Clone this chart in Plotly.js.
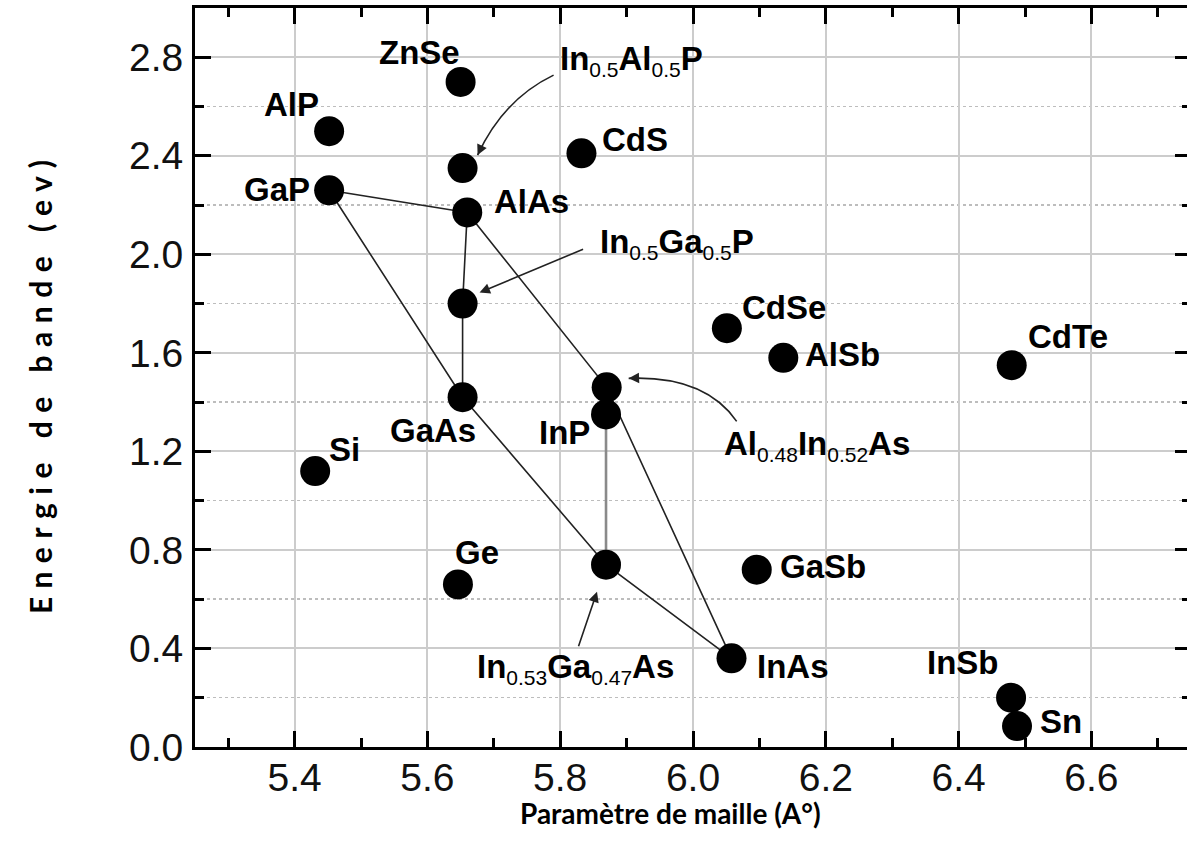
<!DOCTYPE html>
<html><head><meta charset="utf-8">
<script src="https://cdn.plot.ly/plotly-3.0.1.min.js"></script>
<style>html,body{margin:0;padding:0;overflow:hidden;background:#fff}#chart{width:1200px;height:847px}</style>
</head><body><div id="chart"></div>
<script>
// ---------------- data ----------------
const names    = ['ZnSe','AlP','GaP','In0.5Al0.5P','AlAs','In0.5Ga0.5P','GaAs','Si','Ge','CdS',
                  'Al0.48In0.52As','InP','In0.53Ga0.47As','InAs','GaSb','CdSe','AlSb','CdTe','InSb','Sn'];
const latticeA = [5.650,5.452,5.452,5.653,5.660,5.653,5.653,5.431,5.646,5.832,
                  5.870,5.869,5.869,6.058,6.096,6.051,6.136,6.480,6.479,6.488];
const gapEV    = [2.70,2.50,2.26,2.35,2.17,1.80,1.42,1.12,0.66,2.41,
                  1.46,1.35,0.74,0.36,0.72,1.70,1.58,1.55,0.20,0.085];
const tieLines = [['GaP','AlAs'],['GaP','GaAs','In0.53Ga0.47As','InAs'],
                  ['AlAs','In0.5Ga0.5P','GaAs'],['AlAs','Al0.48In0.52As','InAs']];
const grayLine = ['InP','In0.53Ga0.47As'];
const xTickVals = [5.4,5.6,5.8,6.0,6.2,6.4,6.6];
const yTickVals = [0.0,0.4,0.8,1.2,1.6,2.0,2.4,2.8];
const xTitle = 'Paramètre de maille (A°)';
const yTitle = 'Energie de bande (ev)';

// ---------------- geometry / styles ----------------
const W = 1200, H = 847;
const M = {l:195, r:9, t:8, b:100};
const XR = [5.25, 6.75], YR = [0, 3.0];
const pxX = (W - M.l - M.r) / (XR[1]-XR[0]);
const pxY = (H - M.t - M.b) / (YR[1]-YR[0]);
const idx = n => names.indexOf(n);
const P = n => [latticeA[idx(n)], gapEV[idx(n)]];
const off = (n, dx, dy) => [P(n)[0] + dx/pxX, P(n)[1] + dy/pxY]; // dy up

const LBL = {family:'Liberation Sans, Arial, sans-serif', size:33, color:'#000', weight:'bold'};
const sub = s => '<sub><span style="font-size:21px;font-weight:normal">'+s+'</span></sub>';

// binary labels: offset of text center from point (px, dx right, dy down)
const binLabels = [
  ['ZnSe',-41,-29],['AlP',-38,-27],['GaP',-52,-1],['GaAs',-30,33],['Si',29,-22],['Ge',19,-32],
  ['AlAs',64,-11],['CdS',54,-14],['InP',-42,18],['InAs',61,8],['GaSb',66,-3],['CdSe',57,-21],
  ['AlSb',59,-3],['CdTe',56,-29],['InSb',-48,-35],['Sn',44,-5]
];
// alloy labels: [point, text, left dx, center dy(down)]
const alloyLabels = [
  ['In0.5Al0.5P', 'In'+sub('0.5')+'Al'+sub('0.5')+'P', 95, -108],
  ['In0.5Ga0.5P', 'In'+sub('0.5')+'Ga'+sub('0.5')+'P', 135, -60],
  ['Al0.48In0.52As', 'Al'+sub('0.48')+'In'+sub('0.52')+'As', 115, 58],
  ['In0.53Ga0.47As', 'In'+sub('0.53')+'Ga'+sub('0.47')+'As', -131, 104]
];
// arrows: point, tail, ctrl (or null), tip  (px offsets, y up)
const arrows = [
  ['In0.5Al0.5P', [91,93], [41,69], [15,13]],
  ['In0.5Ga0.5P', [122,55], null, [17,11]],
  ['Al0.48In0.52As', [130,-34], [98,12], [22,9]],
  ['In0.53Ga0.47As', [-28,-83], null, [-9,-27]]
];

const traces = [];
tieLines.forEach(seq => traces.push({
  x: seq.map(n => P(n)[0]), y: seq.map(n => P(n)[1]), mode:'lines',
  line:{color:'#222', width:1.6}, hoverinfo:'skip'
}));
traces.push({x: grayLine.map(n=>P(n)[0]), y: grayLine.map(n=>P(n)[1]), mode:'lines',
  line:{color:'#8a8a8a', width:2.6}, hoverinfo:'skip'});
traces.push({x: latticeA, y: gapEV, text: names, mode:'markers', type:'scatter',
  marker:{size:30, color:'#000'}, hoverinfo:'text'});

const annotations = [];
binLabels.forEach(([n,dx,dy]) => annotations.push({
  x:P(n)[0], y:P(n)[1], xref:'x', yref:'y', text:n, showarrow:false,
  xshift:dx, yshift:-dy, xanchor:'center', yanchor:'middle', font:LBL
}));
alloyLabels.forEach(([n,t,dx,dy]) => annotations.push({
  x:P(n)[0], y:P(n)[1], xref:'x', yref:'y', text:t, showarrow:false,
  xshift:dx, yshift:-dy, xanchor:'left', yanchor:'middle', font:LBL
}));
const shapes = [];
arrows.forEach(([n,tail,ctrl,tip]) => {
  const tp = off(n, tip[0], tip[1]);
  if (ctrl) {
    const a = off(n, tail[0], tail[1]), c = off(n, ctrl[0], ctrl[1]);
    shapes.push({type:'path', xref:'x', yref:'y',
      path:`M ${a[0]},${a[1]} Q ${c[0]},${c[1]} ${tp[0]},${tp[1]}`,
      line:{color:'#222', width:1.6}});
    let ux = ctrl[0]-tip[0], uy = ctrl[1]-tip[1]; const L = Math.hypot(ux,uy); ux/=L; uy/=L;
    annotations.push({x:tp[0], y:tp[1], xref:'x', yref:'y', text:'', showarrow:true,
      ax: ux*12, ay: -uy*12, arrowhead:2, arrowsize:1.3, arrowwidth:1.6, arrowcolor:'#222'});
  } else {
    annotations.push({x:tp[0], y:tp[1], xref:'x', yref:'y', text:'', showarrow:true,
      ax: tail[0]-tip[0], ay: -(tail[1]-tip[1]), arrowhead:2, arrowsize:1.3, arrowwidth:1.6, arrowcolor:'#222'});
  }
});
// axis titles
annotations.push({xref:'paper', yref:'paper', x:0.477, y:0, xanchor:'center', yanchor:'middle',
  yshift:-66, text:xTitle, showarrow:false,
  font:{family:'Lato, Open Sans, sans-serif', size:28, color:'#000', weight:'bold'}});
annotations.push({xref:'paper', yref:'paper', x:0, y:0.4926, xanchor:'center', yanchor:'middle',
  xshift:-155, textangle:-90, showarrow:false,
  text:'<span style="letter-spacing:8.5px">'+yTitle+'</span>',
  font:{family:'Lato, Open Sans, sans-serif', size:30, color:'#000', weight:'bold'}});

const tickFont = {family:'Liberation Sans, Arial, sans-serif', size:39, color:'#111'};
const layout = {
  width:W, height:H, margin:M, showlegend:false,
  paper_bgcolor:'#fff', plot_bgcolor:'#fff',
  xaxis:{range:XR, tickvals:xTickVals, ticktext:xTickVals.map(v=>v.toFixed(1)),
    ticks:'inside', ticklen:16, tickwidth:3, tickcolor:'#000',
    showline:true, linewidth:3, linecolor:'#000', mirror:'allticks',
    showgrid:true, gridcolor:'#cccccc', gridwidth:2, zeroline:false,
    minor:{dtick:0.1, tick0:5.3, ticks:'inside', ticklen:9, tickwidth:3, tickcolor:'#000', showgrid:false},
    tickfont:tickFont, ticklabelstandoff:-6},
  yaxis:{range:YR, tickvals:yTickVals, ticktext:yTickVals.map(v=>v.toFixed(1)),
    ticks:'inside', ticklen:16, tickwidth:3, tickcolor:'#000',
    showline:true, linewidth:3, linecolor:'#000', mirror:'allticks',
    showgrid:true, gridcolor:'#cccccc', gridwidth:2, zeroline:false,
    minor:{dtick:0.2, tick0:0, ticks:'inside', ticklen:9, tickwidth:3, tickcolor:'#000',
      showgrid:true, gridcolor:'#bdbdbd', griddash:'dot', gridwidth:1.5},
    tickfont:tickFont, ticklabelstandoff:1},
  annotations, shapes
};
Plotly.newPlot('chart', traces, layout, {displayModeBar:false, staticPlot:true});
</script></body></html>
